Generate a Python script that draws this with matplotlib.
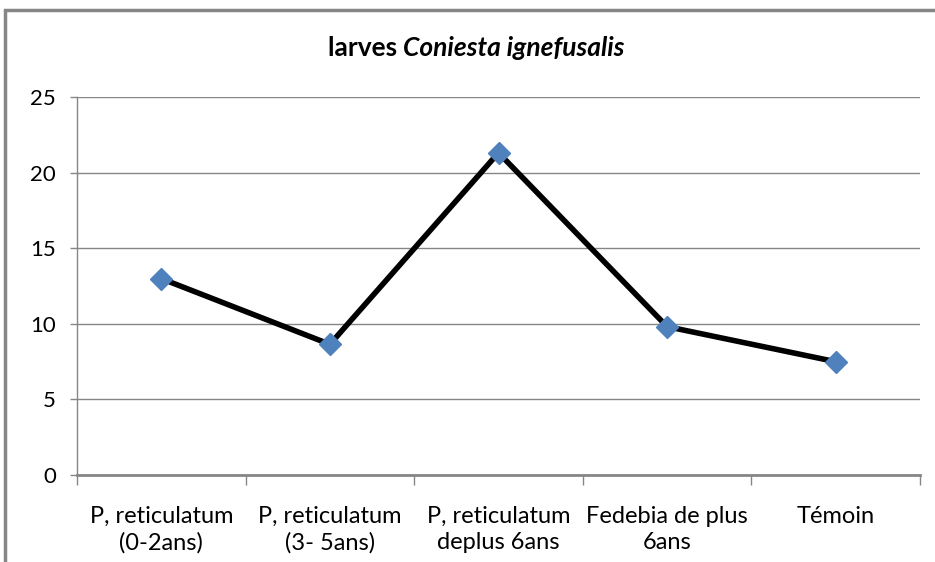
import matplotlib
matplotlib.use('Agg')
import matplotlib.pyplot as plt
from matplotlib.patches import Rectangle

# data
categories = ['P, reticulatum\n(0-2ans)', 'P, reticulatum\n(3- 5ans)',
              'P, reticulatum\ndeplus 6ans', 'Fedebia de plus\n6ans', 'Témoin']
values = [13.0, 8.65, 21.33, 9.82, 7.5]
yticks = [0, 5, 10, 15, 20, 25]

plt.rcParams['font.family'] = ['Lato', 'DejaVu Sans']

W, H = 935, 562
fig = plt.figure(figsize=(W / 100, H / 100), dpi=100)
ax = fig.add_axes([77 / W, (H - 475) / H, (920 - 77) / W, (475 - 97.3) / H])

x = list(range(len(categories)))
ax.plot(x, values, color='black', linewidth=4, zorder=3,
        marker='D', markersize=11, markerfacecolor='#4F81BD',
        markeredgecolor='#4F81BD')

ax.set_xlim(-0.5, len(categories) - 0.5)
ax.set_ylim(0, 25)
ax.set_yticks(yticks)
ax.set_yticklabels([str(v) for v in yticks], fontsize=16)
ax.set_xticks(x)
ax.set_xticklabels(categories, fontsize=17, linespacing=1.3)
ax.tick_params(axis='x', length=0, pad=22)
ax.tick_params(axis='y', length=5, width=1, color='#868686', pad=10)

# category boundary ticks on the x axis
ax.set_xticks([i - 0.5 for i in range(len(categories) + 1)], minor=True)
ax.tick_params(axis='x', which='minor', length=7, width=1, color='#868686')

ax.grid(axis='y', color='#868686', linewidth=1)
ax.set_axisbelow(True)
for side in ['top', 'right']:
    ax.spines[side].set_visible(False)
ax.spines['left'].set_color('#868686')
ax.spines['left'].set_linewidth(1)
ax.spines['bottom'].set_color('#868686')
ax.spines['bottom'].set_linewidth(2)

# title with italic species name
fig.canvas.draw()
r = fig.canvas.get_renderer()
t1 = fig.text(0, 0, 'larves ', fontsize=19, fontweight='bold')
t2 = fig.text(0, 0, 'Coniesta ignefusalis', fontsize=19, fontweight='bold',
              style='italic')
w1 = t1.get_window_extent(r).width
w2 = t2.get_window_extent(r).width
x0 = 476 - (w1 + w2) / 2
ty = (H - 48) / H
t1.set_position((x0 / W, ty))
t1.set_va('center')
t2.set_position(((x0 + w1) / W, ty))
t2.set_va('center')

# outer chart frame (cut off at right and bottom in the reference)
fig.patches.append(Rectangle((5 / W, -0.05), 1.1, (H - 10) / H + 0.05,
                             transform=fig.transFigure, fill=False,
                             edgecolor='#868686', linewidth=2.5))

fig.savefig('out.png', dpi=100)
